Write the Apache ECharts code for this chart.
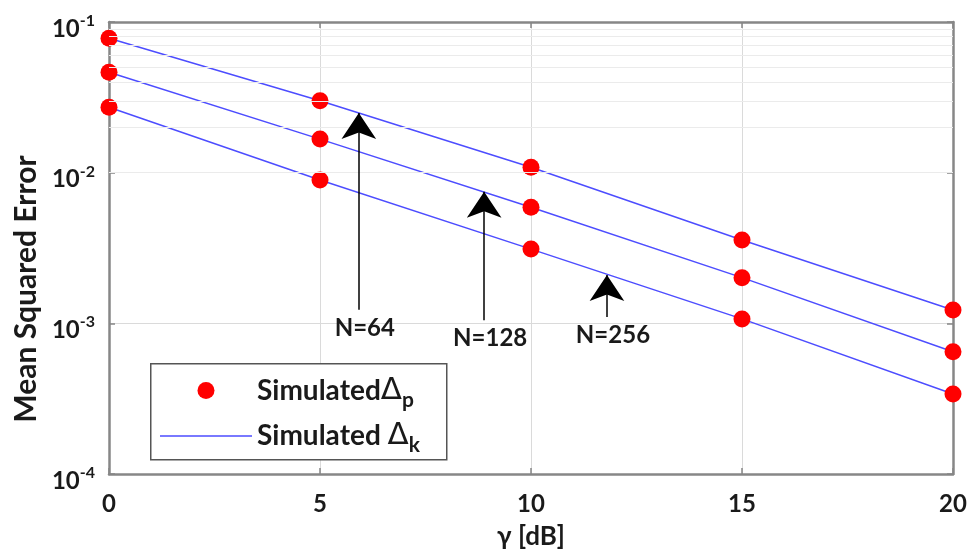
<!DOCTYPE html>
<html>
<head>
<meta charset="utf-8">
<script src="https://cdn.jsdelivr.net/npm/echarts@6/dist/echarts.min.js"></script>
<style>html,body{margin:0;padding:0;background:#fff}#chart{width:971px;height:558px}</style>
</head>
<body>
<div id="chart"></div>
<script>
// ---- data ----
const gammaDb = [0, 5, 10, 15, 20];
const mseN64 = [0.0779, 0.0300, 0.01085, 0.00357, 0.001226];
const mseN128 = [0.0464, 0.0167, 0.00589, 0.00201, 0.000648];
const mseN256 = [0.0272, 0.00894, 0.00311, 0.00107, 0.000340];
const xTicks = [0, 5, 10, 15, 20];
const yMinorGrid = [2e-4,3e-4,4e-4,5e-4,6e-4,7e-4,8e-4,9e-4,2e-3,3e-3,4e-3,5e-3,6e-3,7e-3,8e-3,9e-3,2e-2,3e-2,4e-2,5e-2,6e-2,7e-2,8e-2,9e-2];
const annotLabels = ['N=64', 'N=128', 'N=256'];
const annotX = [5.92, 8.89, 11.8];
const annotFrom = [0.00123, 0.00105, 0.00110];
const annotTo = [0.0249, 0.00748, 0.00209];
const legendP = 'Simulated Δp';
const legendK = 'Simulated Δk';

const FONT = 'Lato, "Open Sans", sans-serif';
const AXIS_COLOR = '#878787';
const LINE_COLOR = '#4d4dff';
const pair = (xs, ys) => xs.map((x, i) => [x, ys[i]]);
const allSets = [mseN64, mseN128, mseN256];

const series = [];
// minor grid lines
series.push({
  type: 'line', data: [], z: 1, silent: true,
  markLine: {
    silent: true, symbol: ['none', 'none'], animation: false,
    label: { show: false },
    lineStyle: { color: '#ebebeb', type: 'solid', width: 1 },
    data: yMinorGrid.map(v => ({ yAxis: v }))
  }
});
allSets.forEach((ys) => {
  series.push({
    name: legendK, type: 'line', data: pair(gammaDb, ys), showSymbol: false, symbol: 'none',
    lineStyle: { color: LINE_COLOR, width: 1.5 }, itemStyle: { color: LINE_COLOR }, z: 3, animation: false
  });
});
allSets.forEach((ys) => {
  series.push({
    name: legendP, type: 'scatter', data: pair(gammaDb, ys), symbol: 'circle', symbolSize: 17,
    itemStyle: { color: '#ff0000', opacity: 1 }, z: 4, animation: false
  });
});
// annotation arrows
series.push({
  type: 'line', data: [], z: 5, silent: true,
  markLine: {
    silent: true, animation: false,
    symbol: ['none', 'arrow'], symbolSize: 26,
    lineStyle: { color: '#000', width: 1.5, type: 'solid' },
    label: {
      show: true, position: 'start', distance: 6, color: '#1a1a1a',
      fontFamily: FONT, fontWeight: 'bold', fontSize: 24,
      formatter: p => p.name, offset: [6, 0]
    },
    data: annotLabels.map((t, i) => [
      { name: t, coord: [annotX[i], annotFrom[i]] },
      { coord: [annotX[i], annotTo[i]] }
    ])
  }
});

const yLabelRich = {
  b: { fontFamily: FONT, fontWeight: 'bold', fontSize: 24, color: '#1a1a1a', padding: [14, 0, 0, 0], verticalAlign: 'bottom' },
  s: { fontFamily: FONT, fontWeight: 'bold', fontSize: 16, color: '#1a1a1a', padding: [10, 0, 0, 0], verticalAlign: 'top' }
};

const option = {
  backgroundColor: '#ffffff',
  animation: false,
  grid: { left: 109, right: 18, top: 22, bottom: 84, containLabel: false },
  xAxis: [{
    type: 'value', min: 0, max: 20, interval: 5, position: 'bottom',
    name: 'γ [dB]', nameLocation: 'middle', nameGap: 50,
    nameTextStyle: { fontFamily: FONT, fontWeight: 'bold', fontSize: 26, color: '#1a1a1a' },
    axisLine: { show: true, onZero: false, lineStyle: { color: AXIS_COLOR, width: 2.5 } },
    axisTick: { show: true, inside: true, length: 6, lineStyle: { color: AXIS_COLOR, width: 1.5 } },
    axisLabel: { show: true, margin: 18, fontFamily: FONT, fontWeight: 'bold', fontSize: 24, color: '#1a1a1a',
      customValues: xTicks },
    splitLine: { show: true, lineStyle: { color: '#dadada', width: 1 } }
  }, {
    type: 'value', min: 0, max: 20, interval: 5, position: 'top',
    axisLine: { show: true, onZero: false, lineStyle: { color: AXIS_COLOR, width: 2.5 } },
    axisTick: { show: true, inside: true, length: 6, lineStyle: { color: AXIS_COLOR, width: 1.5 } },
    axisLabel: { show: false }, splitLine: { show: false }
  }],
  yAxis: [{
    type: 'log', logBase: 10, min: 1e-4, max: 1e-1, position: 'left',
    name: 'Mean Squared Error', nameLocation: 'middle', nameGap: 68, nameRotate: 90,
    nameTextStyle: { fontFamily: FONT, fontWeight: 'bold', fontSize: 30, color: '#1a1a1a', padding: [0, 82, 0, 0] },
    axisLine: { show: true, onZero: false, lineStyle: { color: AXIS_COLOR, width: 2.5 } },
    axisTick: { show: true, inside: true, length: 6, lineStyle: { color: AXIS_COLOR, width: 1.5 } },
    axisLabel: {
      show: true, margin: 14,
      formatter: v => { const e = Math.round(Math.log10(v)); return '{b|10}{s|' + e + '}'; },
      rich: yLabelRich
    },
    splitLine: { show: true, lineStyle: { color: '#dadada', width: 1 } }
  }, {
    type: 'log', logBase: 10, min: 1e-4, max: 1e-1, position: 'right',
    axisLine: { show: true, onZero: false, lineStyle: { color: AXIS_COLOR, width: 2.5 } },
    axisTick: { show: true, inside: true, length: 6, lineStyle: { color: AXIS_COLOR, width: 1.5 } },
    axisLabel: { show: false }, splitLine: { show: false }
  }],
  legend: {
    orient: 'vertical', left: 160, top: 375, padding: 0, itemGap: 10, z: 20,
    itemWidth: 92, itemHeight: 17, selectedMode: false,
    data: [
      { name: legendP, icon: 'circle' },
      { name: legendK, icon: 'path://M0,0L92,0L92,1.6L0,1.6Z', itemStyle: { color: LINE_COLOR } }
    ],
    formatter: name => name === legendP ? '{m|Simulated}{d|Δ}{s|p}' : '{m|Simulated }{d|Δ}{s|k}',
    textStyle: {
      rich: {
        m: { fontFamily: FONT, fontWeight: 'bold', fontSize: 28, color: '#1a1a1a', lineHeight: 40, verticalAlign: 'middle' },
        d: { fontFamily: '"DejaVu Sans", sans-serif', fontWeight: 'normal', fontSize: 31, color: '#1a1a1a', lineHeight: 40, verticalAlign: 'middle' },
        s: { fontFamily: FONT, fontWeight: 'bold', fontSize: 21, color: '#1a1a1a', lineHeight: 12, verticalAlign: 'bottom' }
      }
    }
  },
  graphic: [{
    type: 'rect', left: 150, top: 363, z: 2, silent: true,
    shape: { width: 296, height: 96 },
    style: { fill: '#ffffff', stroke: '#555555', lineWidth: 1.5 }
  }],
  series: series
};
const chart = echarts.init(document.getElementById('chart'), null, { renderer: 'canvas' });
chart.setOption(option);
</script>
</body>
</html>
